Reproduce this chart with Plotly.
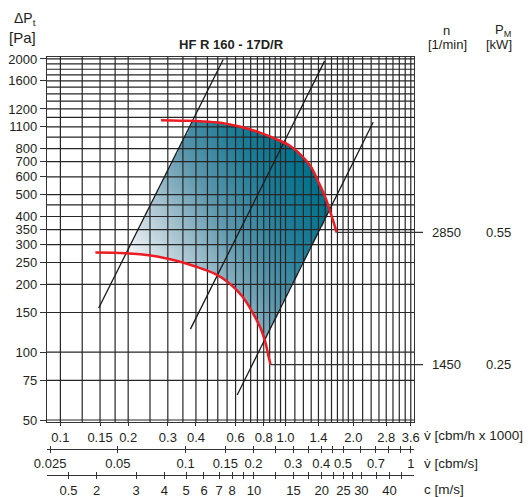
import numpy as np
import plotly.graph_objects as go

# page body has an 8px margin: the figure is laid out in reference pixels minus OFF
OFF = 8
W, H = 531 - OFF, 497 - OFF

# ---------------- data ----------------
FLOW_RANGE = [0.0872, 3.72]          # V [cbm/h x 1000]
PRESSURE_RANGE = [49.0, 2040.0]      # dPt [Pa]
DUCT_DIAMETER = 0.16                 # m

FLOW_TICKS = [0.1, 0.15, 0.2, 0.3, 0.4, 0.6, 0.8, 1.0, 1.4, 2.0, 2.8, 3.6]
FLOW_TICK_TEXT = ["0.1", "0.15", "0.2", "0.3", "0.4", "0.6", "0.8", "1.0", "1.4", "2.0", "2.8", "3.6"]
FLOW_GRID = [0.1, 0.125, 0.15, 0.175, 0.2, 0.25, 0.3, 0.35, 0.4, 0.45, 0.5, 0.55, 0.6, 0.65,
             0.7, 0.75, 0.8, 0.85, 0.9, 0.95, 1.0, 1.1, 1.2, 1.3, 1.4, 1.5, 1.6, 1.7, 1.8,
             1.9, 2.0, 2.2, 2.4, 2.6, 2.8, 3.0, 3.2, 3.4, 3.6]

PRESSURE_TICKS = [50, 75, 100, 150, 200, 250, 300, 350, 400, 500, 600, 700, 800, 1000, 1200, 1600, 2000]
PRESSURE_TICK_TEXT = ["50", "75", "100", "150", "200", "250", "300", "350", "400", "500", "600",
                      "700", "800", "1100", "1200", "1600", "2000"]
PRESSURE_GRID = [50, 75, 100, 150, 200, 250, 300, 350, 400, 450, 500, 600, 700, 800, 900, 1000,
                 1100, 1200, 1300, 1400, 1500, 1600, 1700, 1800, 1900, 2000]

FLOW_S_TICKS = [0.025, 0.05, 0.1, 0.15, 0.2, 0.25, 0.3, 0.35, 0.4, 0.45, 0.5, 0.6, 0.7, 0.8, 0.9, 1.0]
FLOW_S_TICK_TEXT = ["0.025", "0.05", "0.1", "0.15", "0.2", "", "0.3", "", "0.4", "", "0.5", "",
                    "0.7", "", "", "1"]

VELOCITY_TICKS = [1.5, 2, 3, 4, 5, 6, 7, 8, 9, 10, 12.5, 15, 17.5, 20, 22.5, 25, 27.5, 30, 35, 40, 45]
VELOCITY_TICK_TEXT = ["0.5", "2", "3", "4", "5", "6", "7", "8", "", "10", "", "15", "", "20", "",
                      "25", "", "30", "", "40", ""]

# fan curve n = 2850 1/min
HIGH_FLOW = [0.280, 0.341, 0.419, 0.514, 0.631, 0.774, 0.919, 1.053, 1.166, 1.292, 1.406, 1.506,
             1.585, 1.640, 1.685]
HIGH_PRESSURE = [1070, 1064, 1058, 1042, 1000, 940, 878, 820, 753, 668, 564, 483, 415, 374, 340]
# fan curve n = 1450 1/min
LOW_FLOW = [0.143, 0.1945, 0.256, 0.3245, 0.398, 0.489, 0.560, 0.642, 0.711, 0.774, 0.815, 0.838, 0.858]
LOW_PRESSURE = [277, 275, 268, 255, 240, 222, 203, 177, 151, 128, 110, 97, 88]

SPEEDS = ["2850", "1450"]
POWERS = ["0.55", "0.25"]

# system curves (straight in log-log)
SYSTEM_FLOW_START = [0.148, 0.378, 0.61]
SYSTEM_PRESSURE_START = [157, 126.5, 64.6]
SYSTEM_FLOW_END = [0.5285, 1.49, 2.45]
SYSTEM_PRESSURE_END = [1990, 1956, 1048]

# ---------------- layout geometry (reference px) ----------------
PL, PR, PT, PB = 47, 414, 57, 422
lx0, lx1 = np.log10(FLOW_RANGE[0]), np.log10(FLOW_RANGE[1])
ly0, ly1 = np.log10(PRESSURE_RANGE[0]), np.log10(PRESSURE_RANGE[1])


def px2x(px):
    return (px - OFF) / W


def py2y(py):
    return 1 - (py - OFF) / H


def fx(v):
    return px2x(PL + (np.log10(v) - lx0) / (lx1 - lx0) * (PR - PL))


def fy(p):
    return py2y(PB - (np.log10(p) - ly0) / (ly1 - ly0) * (PB - PT))


FONT = "Liberation Sans, Arial, sans-serif"
TXT = "#231f20"
GRID_C = "#262626"
RED = "#ec1c24"

fig = go.Figure()

# ---------------- gradient filled working area ----------------
na, nb = 330, 330
a = np.linspace(lx0, lx1, na)
b = np.linspace(ly0, ly1, nb)
A, B = np.meshgrid(a, b)
upper = np.interp(A, np.log10(HIGH_FLOW), np.log10(HIGH_PRESSURE), left=np.inf, right=-np.inf)
lower = np.interp(A, np.log10(LOW_FLOW), np.log10(LOW_PRESSURE), left=np.inf, right=-np.inf)


def sys_line(i, aa):
    xs, xe = np.log10(SYSTEM_FLOW_START[i]), np.log10(SYSTEM_FLOW_END[i])
    ys, ye = np.log10(SYSTEM_PRESSURE_START[i]), np.log10(SYSTEM_PRESSURE_END[i])
    return ys + (ye - ys) / (xe - xs) * (aa - xs)


mask = (B < upper) & (B > lower) & (B < sys_line(0, A)) & (B > sys_line(2, A))
s = A + 0.6 * B
z = np.where(mask, s, np.nan)
fig.add_trace(go.Heatmap(
    x=10 ** a, y=10 ** b, z=z, zmin=np.nanmin(z), zmax=np.nanmax(z),
    colorscale=[[0, "#f4f7f9"], [0.25, "#a9c5d1"], [0.5, "#5a96ac"], [0.75, "#1f7d98"], [1, "#00718b"]],
    showscale=False, hoverinfo="skip", zsmooth=False))

# ---------------- grid ----------------
gx, gy = [], []
for v in FLOW_GRID:
    gx += [v, v, None]
    gy += [PRESSURE_RANGE[0], PRESSURE_RANGE[1], None]
fig.add_trace(go.Scatter(x=gx, y=gy, mode="lines", line=dict(color=GRID_C, width=1.2),
                         hoverinfo="skip", showlegend=False))
hx, hy = [], []
for p in PRESSURE_GRID:
    hx += [FLOW_RANGE[0], FLOW_RANGE[1], None]
    hy += [p, p, None]
fig.add_trace(go.Scatter(x=hx, y=hy, mode="lines", line=dict(color=GRID_C, width=1.2),
                         hoverinfo="skip", showlegend=False))

# ---------------- system curves ----------------
for i in range(len(SYSTEM_FLOW_START)):
    fig.add_trace(go.Scatter(x=[SYSTEM_FLOW_START[i], SYSTEM_FLOW_END[i]],
                             y=[SYSTEM_PRESSURE_START[i], SYSTEM_PRESSURE_END[i]],
                             mode="lines", line=dict(color="#1a1a1a", width=1.3),
                             hoverinfo="skip", showlegend=False))

# ---------------- fan curves ----------------
for fl, pr in [(HIGH_FLOW, HIGH_PRESSURE), (LOW_FLOW, LOW_PRESSURE)]:
    fig.add_trace(go.Scatter(x=fl, y=pr, mode="lines", line=dict(color=RED, width=2.5, shape="spline"),
                             hoverinfo="skip", showlegend=False))

# dummy traces for the extra axes
for ax, vals in [("x2", FLOW_S_TICKS), ("x3", VELOCITY_TICKS), ("x4", FLOW_S_TICKS), ("x5", VELOCITY_TICKS)]:
    fig.add_trace(go.Scatter(x=[vals[0], vals[-1]], y=[None, None], xaxis=ax, yaxis="y",
                             mode="markers", hoverinfo="skip", showlegend=False))

# ---------------- leader lines and labels ----------------
shapes = []
annotations = []
ends = [(HIGH_FLOW[-1], HIGH_PRESSURE[-1]), (LOW_FLOW[-1], LOW_PRESSURE[-1])]
for (fv, pv), n, pw in zip(ends, SPEEDS, POWERS):
    shapes.append(dict(type="line", xref="paper", yref="paper", x0=fx(fv), x1=px2x(423),
                       y0=fy(pv), y1=fy(pv), line=dict(color="#333", width=1.2)))
    annotations.append(dict(text=n, x=px2x(446), y=fy(pv), xref="paper", yref="paper",
                            showarrow=False, xanchor="center", yanchor="middle",
                            font=dict(size=13, color=TXT, family=FONT)))
    annotations.append(dict(text=pw, x=px2x(498.5), y=fy(pv), xref="paper", yref="paper",
                            showarrow=False, xanchor="center", yanchor="middle",
                            font=dict(size=13, color=TXT, family=FONT)))


def ann(text, px, py, size=13, xanchor="center", bold=False):
    annotations.append(dict(text=f"<b>{text}</b>" if bold else text, x=px2x(px), y=py2y(py),
                            xref="paper", yref="paper", showarrow=False,
                            xanchor=xanchor, yanchor="middle",
                            font=dict(size=size, color=TXT, family=FONT)))


ann("HF R 160 - 17D/R", 231, 44, 13, bold=True)
ann("ΔP<sub>t</sub>", 25, 19, 14)
ann("[Pa]", 22, 37, 15)
ann("n", 446, 31, 13)
ann("[1/min]", 447, 45, 13)
ann("P<sub>M</sub>", 503, 30, 13)
ann("[kW]", 499, 45, 13)
ann("v̇ [cbm/h x 1000]", 422, 435, 13.5, xanchor="left")
ann("v̇ [cbm/s]", 422, 463, 13.5, xanchor="left")
ann("c [m/s]", 422, 489, 13.5, xanchor="left")

# ---------------- axes ----------------
area = np.pi * DUCT_DIAMETER ** 2 / 4
s_range = [lx0 - np.log10(3.6), lx1 - np.log10(3.6)]
c_range = [s_range[0] - np.log10(area), s_range[1] - np.log10(area)]
xdom = [px2x(PL), px2x(PR)]
ydom = [py2y(PB), py2y(PT)]
pos2 = py2y(448.5)
pos3 = py2y(475)
tickfont = dict(size=13, color=TXT, family=FONT)

fig.update_layout(
    width=W, height=H, margin=dict(l=0, r=0, t=0, b=0, autoexpand=False),
    paper_bgcolor="white", plot_bgcolor="white", showlegend=False,
    xaxis=dict(type="log", range=[lx0, lx1], domain=xdom, tickvals=FLOW_TICKS, ticktext=FLOW_TICK_TEXT,
               showgrid=False, zeroline=False, ticks="outside", ticklen=3, tickcolor="#333",
               showline=True, mirror=True, linecolor="#333", linewidth=1.3, tickfont=tickfont,
               automargin=False),
    yaxis=dict(type="log", range=[ly0, ly1], domain=ydom, tickvals=PRESSURE_TICKS,
               ticktext=PRESSURE_TICK_TEXT, showgrid=False, zeroline=False, ticks="outside",
               ticklen=6, tickwidth=1.2, tickcolor="#333", showline=True, mirror=True,
               linecolor="#333", linewidth=1.3, tickfont=tickfont, automargin=False),
    xaxis2=dict(type="log", range=s_range, overlaying="x", anchor="free", position=pos2,
                tickvals=FLOW_S_TICKS, ticktext=FLOW_S_TICK_TEXT, showgrid=False, zeroline=False,
                ticks="outside", ticklen=3, tickwidth=1.2, tickcolor="#333", showline=True,
                linecolor="#333", linewidth=1.3, tickfont=tickfont, automargin=False),
    xaxis4=dict(type="log", range=s_range, overlaying="x", anchor="free", position=pos2,
                tickvals=FLOW_S_TICKS, showticklabels=False, showgrid=False, zeroline=False,
                ticks="inside", ticklen=3, tickwidth=1.2, tickcolor="#333", showline=False,
                automargin=False),
    xaxis3=dict(type="log", range=c_range, overlaying="x", anchor="free", position=pos3,
                tickvals=VELOCITY_TICKS, ticktext=VELOCITY_TICK_TEXT, showgrid=False, zeroline=False,
                ticks="outside", ticklen=3, tickwidth=1.2, tickcolor="#333", showline=True,
                linecolor="#333", linewidth=1.3, tickfont=tickfont, automargin=False),
    xaxis5=dict(type="log", range=c_range, overlaying="x", anchor="free", position=pos3,
                tickvals=VELOCITY_TICKS, showticklabels=False, showgrid=False, zeroline=False,
                ticks="inside", ticklen=3, tickwidth=1.2, tickcolor="#333", showline=False,
                automargin=False),
    shapes=shapes, annotations=annotations,
)

fig.write_html("out.html")
